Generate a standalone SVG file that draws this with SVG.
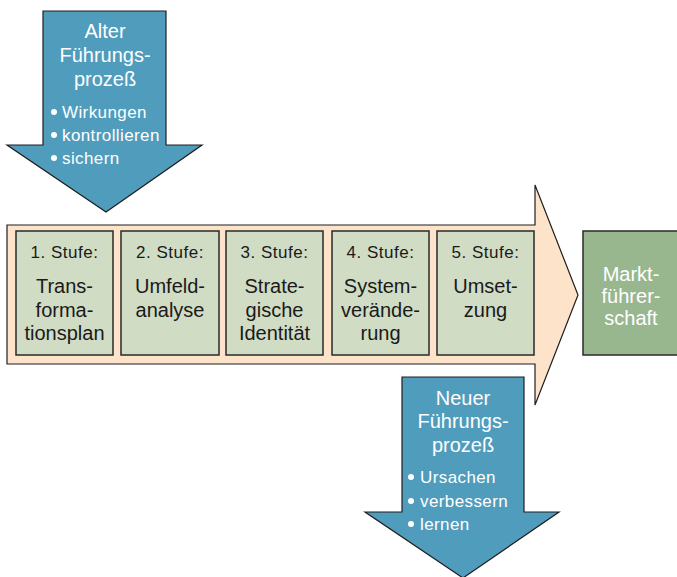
<svg xmlns="http://www.w3.org/2000/svg" width="677" height="577" viewBox="0 0 677 577">
<style>
.blue{fill:#509cbc;stroke:#1e1e1e;stroke-width:1.2}
.band{fill:#fde3ca;stroke:#1e1e1e;stroke-width:1.2}
.stage{fill:#d1dcc4;stroke:#2a2a2a;stroke-width:1.5}
.goal{fill:#98b78f;stroke:#2a2a2a;stroke-width:1.5}
text{font-family:"Liberation Sans",Arial,Helvetica,sans-serif}
.wt{fill:#ffffff;font-size:20px;text-anchor:middle}
.wb{fill:#ffffff;font-size:17px;letter-spacing:0.4px}
.lab{fill:#1a1a1a;font-size:17px;letter-spacing:0.5px;text-anchor:middle}
.st{fill:#1a1a1a;font-size:20px;text-anchor:middle}
.dot{fill:#ffffff}
</style>
<g id="process-arrow">
<polygon class="band" points="7,225 535,225 535,185 578,295 535,405 535,364 7,364"/>
</g>
<g id="connectors"></g>
<g id="alter">
<polygon class="blue" points="43,11 166,11 166,145 202,145 106,212 7,145 43,145"/>
<text class="wt" x="105" y="38">Alter</text>
<text class="wt" x="105" y="62">Führungs-</text>
<text class="wt" x="105" y="86">prozeß</text>
<circle class="dot" cx="54" cy="112" r="3"/>
<text class="wb" x="62" y="118">Wirkungen</text>
<circle class="dot" cx="54" cy="135" r="3"/>
<text class="wb" x="62" y="141">kontrollieren</text>
<circle class="dot" cx="54" cy="158" r="3"/>
<text class="wb" x="62" y="164">sichern</text>
</g>
<g id="stufe1">
<rect class="stage" x="16" y="231" width="97" height="124"/>
<text class="lab" x="64.5" y="258">1. Stufe:</text>
<text class="st" x="64.5" y="293">Trans-</text>
<text class="st" x="64.5" y="317">forma-</text>
<text class="st" x="64.5" y="340">tionsplan</text>
</g>
<g id="stufe2">
<rect class="stage" x="121" y="231" width="98" height="124"/>
<text class="lab" x="170" y="258">2. Stufe:</text>
<text class="st" x="170" y="293">Umfeld-</text>
<text class="st" x="170" y="317">analyse</text>
</g>
<g id="stufe3">
<rect class="stage" x="226" y="231" width="97" height="124"/>
<text class="lab" x="274.5" y="258">3. Stufe:</text>
<text class="st" x="274.5" y="293">Strate-</text>
<text class="st" x="274.5" y="317">gische</text>
<text class="st" x="274.5" y="340">Identität</text>
</g>
<g id="stufe4">
<rect class="stage" x="332" y="231" width="97" height="124"/>
<text class="lab" x="380.5" y="258">4. Stufe:</text>
<text class="st" x="380.5" y="293">System-</text>
<text class="st" x="380.5" y="317">verände-</text>
<text class="st" x="380.5" y="340">rung</text>
</g>
<g id="stufe5">
<rect class="stage" x="437" y="231" width="97" height="124"/>
<text class="lab" x="485.5" y="258">5. Stufe:</text>
<text class="st" x="485.5" y="293">Umset-</text>
<text class="st" x="485.5" y="317">zung</text>
</g>
<g id="marktfuehrerschaft">
<rect class="goal" x="583" y="231" width="100" height="124"/>
<text class="wt" x="631" y="281">Markt-</text>
<text class="wt" x="631" y="303">führer-</text>
<text class="wt" x="631" y="325">schaft</text>
</g>
<g id="neuer">
<polygon class="blue" points="402,377 524,377 524,512 559,512 463,578 365,512 402,512"/>
<text class="wt" x="463" y="405">Neuer</text>
<text class="wt" x="463" y="428">Führungs-</text>
<text class="wt" x="463" y="452">prozeß</text>
<circle class="dot" cx="411" cy="477" r="3"/>
<text class="wb" x="420" y="483">Ursachen</text>
<circle class="dot" cx="411" cy="501" r="3"/>
<text class="wb" x="420" y="507">verbessern</text>
<circle class="dot" cx="411" cy="524" r="3"/>
<text class="wb" x="420" y="530">lernen</text>
</g>
</svg>
